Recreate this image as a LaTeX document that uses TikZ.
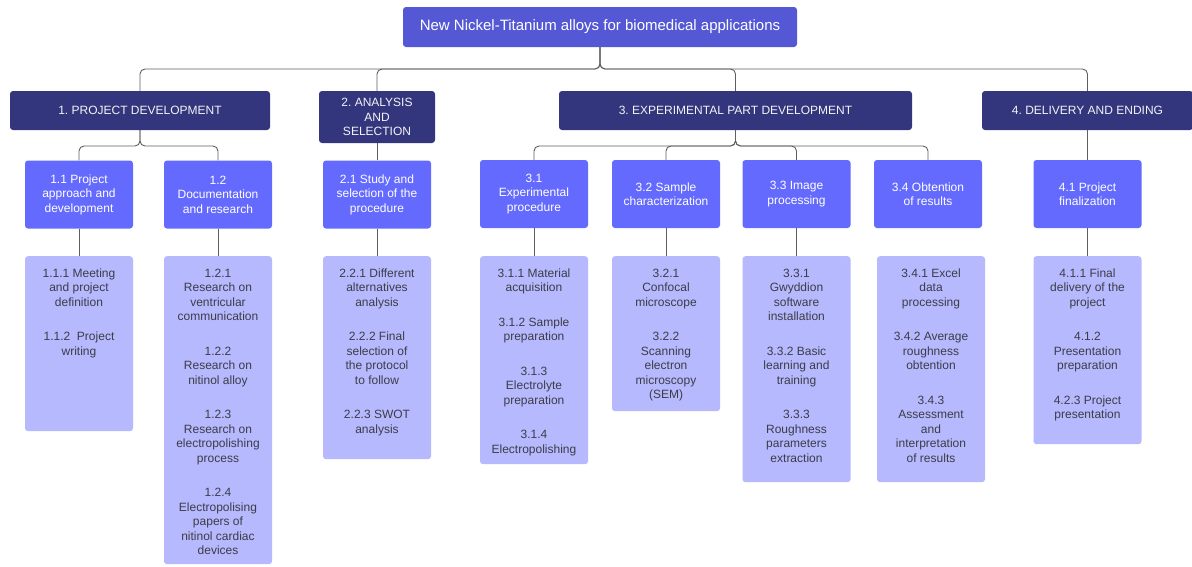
\documentclass[tikz,border=0pt]{standalone}
\usepackage{fontspec}
\setmainfont{Liberation Sans}
\frenchspacing

\definecolor{rootfill}{HTML}{5558D5}
\definecolor{phasefill}{HTML}{33367C}
\definecolor{taskfill}{HTML}{646AFE}
\definecolor{subfill}{HTML}{B6B9FD}
\definecolor{subink}{HTML}{3C3C48}
\definecolor{wire}{HTML}{5E5E5E}

\begin{document}
\begin{tikzpicture}[x=1pt, y=-1pt,
  every node/.style={font=\fontsize{12}{14.5}\selectfont, align=center, inner sep=0pt},
  rootbox/.style={fill=rootfill, rounded corners=3pt, text=white, minimum width=394, minimum height=40, font=\fontsize{15}{18}\selectfont},
  phase/.style={fill=phasefill, rounded corners=3pt, text=white!94!phasefill, minimum height=39},
  task/.style={fill=taskfill, rounded corners=3pt, text=white, minimum width=108, minimum height=68},
  sub/.style={fill=subfill, rounded corners=3pt, minimum width=108, anchor=north},
  subtext/.style={text=subink, anchor=north},
  link/.style={draw=wire, line width=0.9pt, rounded corners=5pt}]

\useasboundingbox (0,0) rectangle (1192,566);

% top of the tree
\node[rootbox] (root) at (600,27) {New Nickel-Titanium alloys for biomedical applications};

% phases
\node[phase, minimum width=260] (p1) at (140,110.5) {1. PROJECT DEVELOPMENT};
\node[phase, minimum width=116, minimum height=52] (p2) at (377,117) {2. ANALYSIS\\AND\\SELECTION};
\node[phase, minimum width=353] (p3) at (735.5,110.5) {3. EXPERIMENTAL PART DEVELOPMENT};
\node[phase, minimum width=211] (p4) at (1087.5,110.5) {4. DELIVERY AND ENDING};

% tasks
\node[task] (s11) at (79,194.5) {1.1 Project\\approach and\\development};
\node[task] (s12) at (218,194.5) {1.2\\Documentation\\and research};
\node[task] (s21) at (377,194.5) {2.1 Study and\\selection of the\\procedure};
\node[task] (s31) at (534,194) {3.1\\Experimental\\procedure};
\node[task] (s32) at (666,194) {3.2 Sample\\characterization};
\node[task] (s33) at (796.5,194) {3.3 Image\\processing};
\node[task] (s34) at (928,194) {3.4 Obtention\\of results};
\node[task] (s41) at (1087.5,194) {4.1 Project\\finalization};

% sub-task boxes
\node[sub, minimum height=175] (l11) at (79,256) {};
\node[sub, minimum height=308] (l12) at (218,256) {};
\node[sub, minimum height=203] (l21) at (377,256) {};
\node[sub, minimum height=208] (l31) at (534,256) {};
\node[sub, minimum height=155] (l32) at (666,256) {};
\node[sub, minimum height=226] (l33) at (796.5,256) {};
\node[sub, minimum height=226] (l34) at (931,256) {};
\node[sub, minimum height=188] (l41) at (1087.5,256) {};

% sub-task texts
\node[subtext] (l11t) at ([yshift=-12.5pt]l11.north) {1.1.1 Meeting\\and project\\definition\\[20pt]1.1.2~ Project\\writing};
\node[subtext] (l12t) at ([yshift=-12.5pt]l12.north) {1.2.1\\Research on\\ventricular\\communication\\[20pt]1.2.2\\Research on\\nitinol alloy\\[20pt]1.2.3\\Research on\\electropolishing\\process\\[20pt]1.2.4\\Electropolising\\papers of\\nitinol cardiac\\devices};
\node[subtext] (l21t) at ([yshift=-12.5pt]l21.north) {2.2.1 Different\\alternatives\\analysis\\[20pt]2.2.2 Final\\selection of\\the protocol\\to follow\\[20pt]2.2.3 SWOT\\analysis};
\node[subtext] (l31t) at ([yshift=-12.5pt]l31.north) {3.1.1 Material\\acquisition\\[20pt]3.1.2 Sample\\preparation\\[20pt]3.1.3\\Electrolyte\\preparation\\[20pt]3.1.4\\Electropolishing};
\node[subtext] (l32t) at ([yshift=-12.5pt]l32.north) {3.2.1\\Confocal\\microscope\\[20pt]3.2.2\\Scanning\\electron\\microscopy\\(SEM)};
\node[subtext] (l33t) at ([yshift=-12.5pt]l33.north) {3.3.1\\Gwyddion\\software\\installation\\[20pt]3.3.2 Basic\\learning and\\training\\[20pt]3.3.3\\Roughness\\parameters\\extraction};
\node[subtext] (l34t) at ([yshift=-12.5pt]l34.north) {3.4.1 Excel\\data\\processing\\[20pt]3.4.2 Average\\roughness\\obtention\\[20pt]3.4.3\\Assessment\\and\\interpretation\\of results};
\node[subtext] (l41t) at ([yshift=-12.5pt]l41.north) {4.1.1 Final\\delivery of the\\project\\[20pt]4.1.2\\Presentation\\preparation\\[20pt]4.2.3 Project\\presentation};

% branching points
\coordinate (bus0) at (600,69);
\coordinate (bus1) at (140,146);
\coordinate (bus3) at (735.5,146);

\begin{scope}[link]
\draw (root.south) -- (bus0) -| (p1.north); %root-p1
\draw (root.south) -- (bus0) -| (p2.north); %root-p2
\draw (root.south) -- (bus0) -| (p3.north); %root-p3
\draw (root.south) -- (bus0) -| (p4.north); %root-p4
\draw (p1.south) -- (bus1) -| (s11.north); %p1-s11
\draw (p1.south) -- (bus1) -| (s12.north); %p1-s12
\draw (p2.south) -- (s21.north); %p2-s21
\draw (p3.south) -- (bus3) -| (s31.north); %p3-s31
\draw (p3.south) -- (bus3) -| (s32.north); %p3-s32
\draw (p3.south) -- (bus3) -| (s33.north); %p3-s33
\draw (p3.south) -- (bus3) -| (s34.north); %p3-s34
\draw (p4.south) -- (s41.north); %p4-s41
\draw (s11.south) -- (l11.north); %s11-l11
\draw (s12.south) -- (l12.north); %s12-l12
\draw (s21.south) -- (l21.north); %s21-l21
\draw (s31.south) -- (l31.north); %s31-l31
\draw (s32.south) -- (l32.north); %s32-l32
\draw (s33.south) -- (l33.north); %s33-l33
\draw (s41.south) -- (l41.north); %s41-l41
\end{scope}

\end{tikzpicture}
\end{document}
